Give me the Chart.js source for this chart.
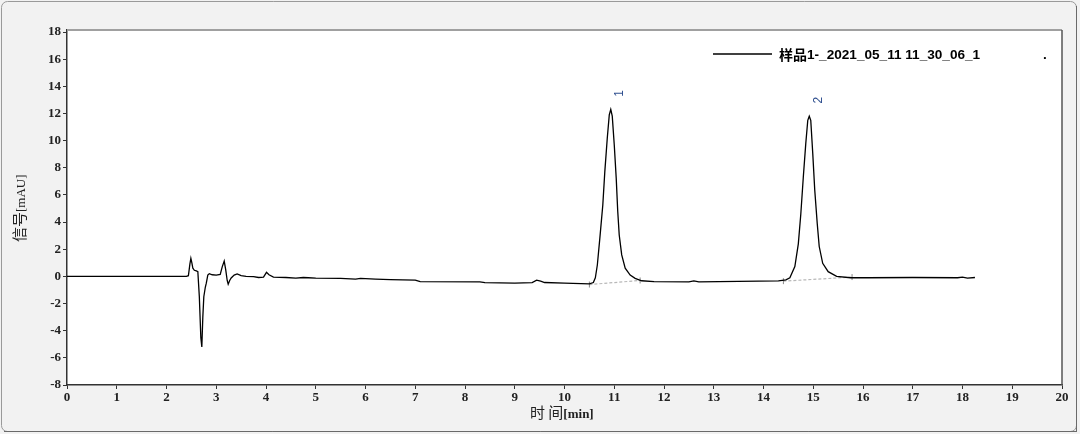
<!DOCTYPE html>
<html><head><meta charset="utf-8">
<script src="https://cdn.jsdelivr.net/npm/chart.js@4.4.1/dist/chart.umd.min.js"></script>
<style>html,body{margin:0;padding:0;background:#f2f2f2;overflow:hidden;} canvas{display:block;}</style>
</head><body><canvas id="c" width="1080" height="434"></canvas>
<script>
// ---- data ----
const timeMin = [0, 2.40, 2.44, 2.47, 2.49, 2.51, 2.53, 2.56, 2.60, 2.63, 2.66, 2.69, 2.71, 2.73, 2.75, 2.78, 2.80, 2.83, 2.86, 2.92, 3.00, 3.08, 3.12, 3.16, 3.19, 3.22, 3.24, 3.27, 3.30, 3.36, 3.42, 3.50, 3.60, 3.75, 3.85, 3.95, 4.01, 4.06, 4.15, 4.40, 4.60, 4.75, 4.85, 5.00, 5.50, 5.80, 5.90, 6.20, 6.50, 7.00, 7.10, 8.30, 8.40, 9.00, 9.35, 9.44, 9.52, 9.60, 10.00, 10.50, 10.58, 10.62, 10.66, 10.71, 10.77, 10.81, 10.86, 10.90, 10.93, 10.96, 11.00, 11.04, 11.07, 11.10, 11.15, 11.22, 11.32, 11.42, 11.55, 11.80, 12.50, 12.60, 12.70, 13.50, 14.30, 14.45, 14.53, 14.63, 14.70, 14.75, 14.80, 14.85, 14.89, 14.92, 14.95, 14.99, 15.03, 15.08, 15.12, 15.19, 15.30, 15.47, 15.75, 16.10, 17.00, 17.90, 18.00, 18.10, 18.25];
const signalMAU = [0, 0, 0.05, 0.9, 1.33, 1.0, 0.6, 0.45, 0.4, 0.35, -1.5, -4.5, -5.2, -3.0, -1.5, -0.8, -0.5, 0.1, 0.2, 0.12, 0.1, 0.15, 0.7, 1.13, 0.5, -0.3, -0.58, -0.3, -0.12, 0.1, 0.18, 0.05, 0.0, -0.02, -0.08, -0.05, 0.3, 0.12, -0.05, -0.08, -0.12, -0.08, -0.1, -0.13, -0.15, -0.2, -0.14, -0.2, -0.24, -0.27, -0.38, -0.4, -0.46, -0.5, -0.46, -0.28, -0.35, -0.45, -0.5, -0.55, -0.45, -0.1, 0.84, 2.8, 5.26, 7.7, 10.2, 11.9, 12.3, 11.8, 9.7, 7.2, 4.8, 3.05, 1.58, 0.6, 0.1, -0.14, -0.32, -0.38, -0.4, -0.33, -0.4, -0.36, -0.33, -0.25, -0.1, 0.72, 2.4, 4.6, 7.3, 9.8, 11.5, 11.8, 11.5, 9.06, 6.36, 3.9, 2.2, 0.96, 0.35, 0.0, -0.1, -0.1, -0.08, -0.1, -0.05, -0.12, -0.08];
const seriesLabel = '样品1-_2021_05_11 11_30_06_1';
// integration baselines under the two peaks
const base1Time = [10.50, 11.52];
const base1Val = [-0.6, -0.3];
const base2Time = [14.40, 15.78];
const base2Val = [-0.35, -0.05];
// peak annotations
const peakLabels = ['1', '2'];
const peakTimes = [10.93, 14.92];
const peakValues = [12.3, 11.8];
// axes
const xMin = 0, xMax = 20, xStep = 1;
const yMin = -8, yMax = 18, yStep = 2;
const xTitleCJK = '时 间', xTitleUnit = '[min]';
const yTitleCJK = '信号', yTitleUnit = '[mAU]';

const toPts = (xs, ys) => xs.map((x, i) => ({x: x, y: ys[i]}));

const SERIF = '"Liberation Serif", "Times New Roman", serif';
const CJK = '"Noto Sans CJK SC", sans-serif';

const decor = {
  id: 'decor',
  beforeDraw(chart) {
    const ctx = chart.ctx, a = chart.chartArea;
    ctx.save();
    ctx.fillStyle = '#f2f2f2';
    ctx.fillRect(0, 0, chart.width, chart.height);
    // outer frame
    ctx.strokeStyle = '#9a9a9a';
    ctx.lineWidth = 1;
    ctx.beginPath();
    ctx.roundRect(1.5, 1.5, chart.width - 5, chart.height - 4, 6);
    ctx.stroke();
    ctx.strokeStyle = '#6a6a6a';
    ctx.beginPath();
    ctx.moveTo(chart.width - 3.5, 6); ctx.lineTo(chart.width - 3.5, chart.height - 3);
    ctx.moveTo(4, chart.height - 2.5); ctx.lineTo(chart.width - 3, chart.height - 2.5);
    ctx.stroke();
    ctx.fillStyle = '#ffffff';
    ctx.fillRect(a.left, a.top, a.right - a.left, a.bottom - a.top);
    ctx.restore();
  },
  afterDraw(chart) {
    const ctx = chart.ctx, a = chart.chartArea;
    const xs = chart.scales.x, ys = chart.scales.y;
    ctx.save();
    // top and right border of plot
    ctx.strokeStyle = '#a0a0a0';
    ctx.lineWidth = 2;
    ctx.beginPath();
    ctx.moveTo(a.left, a.top); ctx.lineTo(a.right, a.top);
    ctx.stroke();
    ctx.strokeStyle = '#555';
    ctx.lineWidth = 1.5;
    ctx.beginPath();
    ctx.moveTo(a.right, a.top); ctx.lineTo(a.right, a.bottom);
    ctx.stroke();
    // legend
    const ly = a.top + 24;
    ctx.strokeStyle = '#000';
    ctx.lineWidth = 1.3;
    ctx.beginPath();
    ctx.moveTo(713, ly); ctx.lineTo(772, ly);
    ctx.stroke();
    ctx.fillStyle = '#000';
    ctx.textBaseline = 'middle';
    ctx.textAlign = 'left';
    const cjkPart = seriesLabel.slice(0, 2), rest = seriesLabel.slice(2);
    ctx.font = 'bold 14px ' + CJK;
    ctx.fillText(cjkPart, 779, ly + 1);
    const w1 = ctx.measureText(cjkPart).width;
    ctx.font = 'bold 13.6px "Liberation Sans", Arial, sans-serif';
    ctx.fillText(rest, 779 + w1, ly + 1);
    ctx.fillText('.', 1043, ly + 1);
    // peak labels (rotated)
    ctx.fillStyle = '#2f4f8f';
    ctx.font = '12px "Liberation Sans", Arial, sans-serif';
    ctx.textAlign = 'center';
    peakLabels.forEach((lab, i) => {
      const px = xs.getPixelForValue(peakTimes[i]) + 9;
      const py = ys.getPixelForValue(peakValues[i]) - 16;
      ctx.save();
      ctx.translate(px, py);
      ctx.rotate(-Math.PI / 2);
      ctx.fillText(lab, 0, 0);
      ctx.restore();
    });
    // x title
    ctx.fillStyle = '#222';
    ctx.textAlign = 'left';
    ctx.textBaseline = 'alphabetic';
    ctx.font = '15px ' + CJK;
    const xw1 = ctx.measureText(xTitleCJK).width;
    const xStart = 530;
    const xBase = 418;
    ctx.fillText(xTitleCJK, xStart, xBase);
    ctx.font = 'bold 13px ' + SERIF;
    ctx.fillText(xTitleUnit, xStart + xw1, xBase);
    // y title
    ctx.save();
    ctx.translate(25, 242);
    ctx.rotate(-Math.PI / 2);
    ctx.font = '15px ' + CJK;
    ctx.fillText(yTitleCJK, 0, 0);
    const yw1 = ctx.measureText(yTitleCJK).width;
    ctx.font = '13px ' + SERIF;
    ctx.fillText(yTitleUnit, yw1, 0);
    ctx.restore();
    ctx.restore();
  }
};

new Chart(document.getElementById('c'), {
  type: 'line',
  data: {
    datasets: [
      {
        label: seriesLabel,
        data: toPts(timeMin, signalMAU),
        borderColor: '#000',
        borderWidth: 1.3,
        pointRadius: 0,
        tension: 0,
        fill: false
      },
      {
        label: 'baseline1',
        data: toPts(base1Time, base1Val),
        borderColor: '#b8b8b8',
        borderWidth: 1.2,
        borderDash: [3, 2],
        pointStyle: 'line',
        rotation: 90,
        pointRadius: 3,
        pointBorderColor: '#888',
        pointBorderWidth: 1,
        tension: 0
      },
      {
        label: 'baseline2',
        data: toPts(base2Time, base2Val),
        borderColor: '#b8b8b8',
        borderWidth: 1.2,
        borderDash: [3, 2],
        pointStyle: 'line',
        rotation: 90,
        pointRadius: 3,
        pointBorderColor: '#888',
        pointBorderWidth: 1,
        tension: 0
      }
    ]
  },
  options: {
    responsive: false,
    animation: false,
    layout: { padding: { left: 0, top: 30, right: 18, bottom: 0 } },
    plugins: { legend: { display: false }, tooltip: { enabled: false } },
    scales: {
      x: {
        type: 'linear',
        min: xMin, max: xMax,
        afterFit(s) { s.height = 49; },
        border: { color: '#333', width: 1.5 },
        grid: { drawOnChartArea: false, tickLength: 4, color: '#333' },
        ticks: { stepSize: xStep, color: '#222', padding: 1, maxRotation: 0, autoSkip: false,
                 font: { family: SERIF, size: 13, weight: 'bold' } }
      },
      y: {
        type: 'linear',
        min: yMin, max: yMax + 0.15,
        afterFit(s) { s.width = 67; },
        border: { color: '#333', width: 1.5 },
        grid: { drawOnChartArea: false, tickLength: 4, color: '#333' },
        ticks: { stepSize: yStep, includeBounds: false, color: '#222', padding: 2, autoSkip: false,
                 font: { family: SERIF, size: 13, weight: 'bold' } }
      }
    }
  },
  plugins: [decor]
});
</script>
</body></html>
